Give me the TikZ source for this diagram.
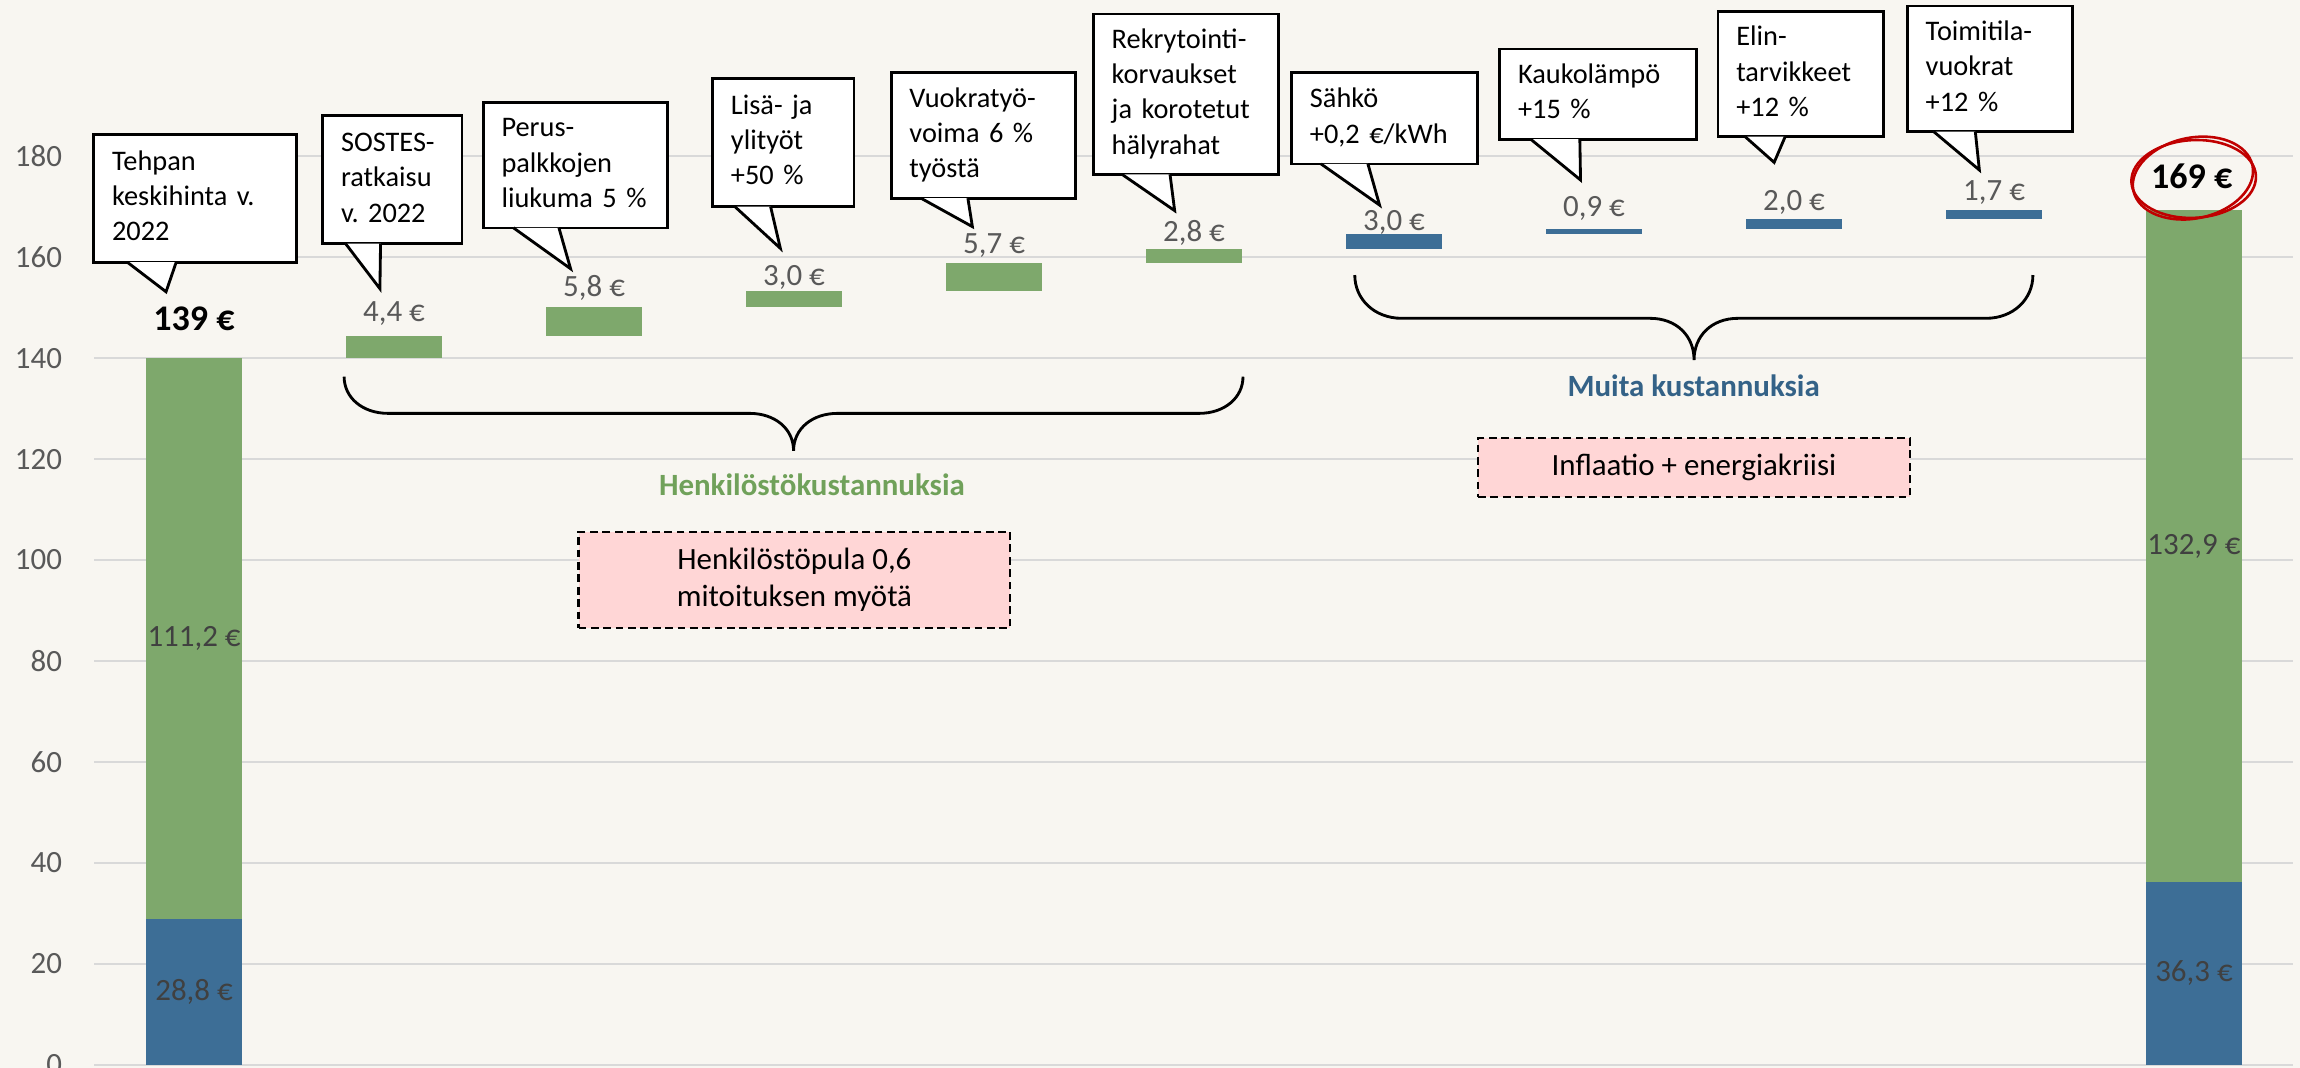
\documentclass[tikz,border=0pt]{standalone}
\usepackage{fontspec}
\setmainfont{Carlito}
\usepackage{xcolor}
\usepackage{tikz}
\usetikzlibrary{positioning}
\frenchspacing

\definecolor{chartbg}{RGB}{248,246,241}
\definecolor{gridgray}{RGB}{217,217,217}
\definecolor{axisgray}{RGB}{89,89,89}
\definecolor{inbargray}{RGB}{64,64,64}
\definecolor{bargreen}{RGB}{126,168,108}
\definecolor{barblue}{RGB}{61,110,150}
\definecolor{headgreen}{RGB}{112,161,90}
\definecolor{headblue}{RGB}{52,98,135}
\definecolor{notepink}{RGB}{255,214,214}
\definecolor{ringred}{RGB}{192,0,0}

\begin{document}
\begin{tikzpicture}[
    x=0.02cm, y=-0.02cm,
    gridline/.style={draw=gridgray, line width=0.8pt},
    ylab/.style={anchor=east, inner sep=0pt, text=axisgray, font=\fontsize{12}{14}\selectfont},
    vallab/.style={anchor=base, inner sep=0pt, text=axisgray, font=\fontsize{12}{14}\selectfont},
    inbar/.style={inner sep=0pt, text=inbargray, font=\fontsize{12}{14}\selectfont},
    totlab/.style={anchor=base, inner sep=0pt, font=\fontsize{14}{17}\selectfont\bfseries},
    bubble/.style={draw, fill=white, line width=1.1pt, align=left, inner xsep=0.25cm, inner ysep=2pt, font=\fontsize{11}{13.7}\selectfont, execute at begin node=\strut, execute at end node=\strut},
    bubbletail/.style={draw, fill=white, line width=1.1pt},
    notebox/.style={draw, dash pattern=on 3pt off 1.8pt, line width=0.9pt, fill=notepink, align=center, minimum width=5.886cm, font=\fontsize{12}{14.7}\selectfont},
    bracepath/.style={line width=1.1pt},
    grouplab/.style={anchor=base, inner sep=0pt, font=\fontsize{12}{14}\selectfont\bfseries},
    redring/.style={draw=ringred, line width=1pt}
]
    \fill[chartbg] (0,0) rectangle (1568,728);
    \useasboundingbox (0,0) rectangle (1568,728);

    \foreach \val in {0,20,...,180} {
        \draw[gridline] (64.1,{725.9-3.441*\val}) -- (1563.3,{725.9-3.441*\val});
        \node[ylab] (y\val) at (42.6,{725.9-3.441*\val}) {\val};
    }

    \fill[barblue] (99.6,626.8) rectangle (165.0,725.9);
    \fill[bargreen] (99.6,244.2) rectangle (165.0,626.8);
    \fill[bargreen] (235.9,229.0) rectangle (301.3,244.2);
    \fill[bargreen] (372.3,209.1) rectangle (437.7,229.0);
    \fill[bargreen] (508.6,198.7) rectangle (574.0,209.1);
    \fill[bargreen] (645.0,179.1) rectangle (710.4,198.7);
    \fill[bargreen] (781.3,169.5) rectangle (846.7,179.1);
    \fill[barblue] (917.6,159.2) rectangle (983.0,169.5);
    \fill[barblue] (1054.0,156.1) rectangle (1119.4,159.2);
    \fill[barblue] (1190.3,149.2) rectangle (1255.7,156.1);
    \fill[barblue] (1326.7,143.3) rectangle (1392.1,149.2);
    \fill[barblue] (1463.0,601.0) rectangle (1528.4,725.9);
    \fill[bargreen] (1463.0,143.3) rectangle (1528.4,601.0);

    \node[inbar] (blue-old) at (132.3,676.3) {28,8 €};
    \node[inbar] (green-old) at (132.3,435.5) {111,2 €};
    \node[inbar] (blue-new) at (1495.7,663.4) {36,3 €};
    \node[inbar] (green-new) at (1495.7,372.3) {132,9 €};
    \node[totlab] (total-old) at (132.3,225) {139 €};
    \node[totlab] (total-new) at (1494.2,128.4) {169 €};

    \node[vallab] (v-sostes) at (268.6,219.3) {4,4 €};
    \node[vallab] (v-perus) at (405.0,202.3) {5,8 €};
    \node[vallab] (v-lisa) at (541.3,194.3) {3,0 €};
    \node[vallab] (v-vuokra) at (677.7,172.7) {5,7 €};
    \node[vallab] (v-rekry) at (814.0,164.8) {2,8 €};
    \node[vallab] (v-sahko) at (950.3,156.8) {3,0 €};
    \node[vallab] (v-kauko) at (1086.7,147.7) {0,9 €};
    \node[vallab] (v-elin) at (1223.0,143.2) {2,0 €};
    \node[vallab] (v-toimi) at (1359.4,136.4) {1,7 €};

    \draw[bracepath] (234.6,256.8) .. controls (234.6,271) and (247,281.8) .. (264.6,281.8) -- (511,281.8) .. controls (528,281.8) and (541,292) .. (541,307.3) .. controls (541,292) and (554,281.8) .. (571,281.8) -- (817.4,281.8) .. controls (835,281.8) and (847.4,271) .. (847.4,256.8);
    \draw[bracepath] (923.6,187.5) .. controls (923.6,204) and (937,217) .. (955.6,217) -- (1124.9,217) .. controls (1143,217) and (1154.9,229) .. (1154.9,245.4) .. controls (1154.9,229) and (1166.8,217) .. (1184.9,217) -- (1353.9,217) .. controls (1372.5,217) and (1385.9,204) .. (1385.9,187.5);
    \node[grouplab, text=headgreen] (staff) at (553.5,337.5) {Henkilöstökustannuksia};
    \node[grouplab, text=headblue] (other) at (1154.6,270) {Muita kustannuksia};

    \node[notebox, minimum height=1.31cm] (shortage) at (541.6,395.2) {Henkilöstöpula 0,6\\mitoituksen myötä};
    \node[notebox, minimum height=0.796cm] (inflation) at (1154.8,318.7) {Inflaatio + energiakriisi};

    \node[bubble, text width=2.27cm, minimum height=1.744cm] (tehpan) at (133.15,135.2) {Tehpan\\keskihinta v.\\2022};
    \coordinate (tehpan-tip) at (113.2,198.9);
    \draw[bubbletail] ([xshift=0.476cm, yshift=0.6pt]tehpan.south west) -- (tehpan-tip) -- ([xshift=1.144cm, yshift=0.6pt]tehpan.south west);

    \node[bubble, text width=1.40cm, minimum height=1.744cm] (sostes) at (267.5,122.5) {SOSTES-\\ratkaisu\\v. 2022};
    \coordinate (sostes-tip) at (259,196.8);
    \draw[bubbletail] ([xshift=0.33cm, yshift=0.6pt]sostes.south west) -- (sostes-tip) -- ([xshift=0.808cm, yshift=0.6pt]sostes.south west);

    \node[bubble, text width=2.016cm, minimum height=1.712cm] (perus) at (392.3,112.6) {Perus-\\palkkojen\\liukuma 5 \%};
    \coordinate (perus-tip) at (389,183.2);
    \draw[bubbletail] ([xshift=0.432cm, yshift=0.6pt]perus.south west) -- (perus-tip) -- ([xshift=1.052cm, yshift=0.6pt]perus.south west);

    \node[bubble, text width=1.428cm, minimum height=1.75cm] (lisa) at (534,97.15) {Lisä- ja\\ylityöt\\+50 \%};
    \coordinate (lisa-tip) at (532,169.3);
    \draw[bubbletail] ([xshift=0.322cm, yshift=0.6pt]lisa.south west) -- (lisa-tip) -- ([xshift=0.81cm, yshift=0.6pt]lisa.south west);

    \node[bubble, text width=2.01cm, minimum height=1.714cm] (vuokra) at (670.25,92.35) {Vuokratyö-\\voima 6 \%\\työstä};
    \coordinate (vuokra-tip) at (662.9,154.5);
    \draw[bubbletail] ([xshift=0.426cm, yshift=0.6pt]vuokra.south west) -- (vuokra-tip) -- ([xshift=1.066cm, yshift=0.6pt]vuokra.south west);

    \node[bubble, text width=2.02cm, minimum height=2.188cm] (rekry) at (808.4,64.2) {Rekrytointi-\\korvaukset\\ja korotetut\\hälyrahat};
    \coordinate (rekry-tip) at (800.8,143.6);
    \draw[bubbletail] ([xshift=0.408cm, yshift=0.6pt]rekry.south west) -- (rekry-tip) -- ([xshift=1.064cm, yshift=0.6pt]rekry.south west);

    \node[bubble, text width=2.038cm, minimum height=1.246cm] (sahko) at (943.95,80.65) {Sähkö\\+0,2 €/kWh};
    \coordinate (sahko-tip) at (940.5,139.8);
    \draw[bubbletail] ([xshift=0.42cm, yshift=0.6pt]sahko.south west) -- (sahko-tip) -- ([xshift=1.06cm, yshift=0.6pt]sahko.south west);

    \node[bubble, text width=2.182cm, minimum height=1.232cm] (kauko) at (1089.45,64.2) {Kaukolämpö\\+15 \%};
    \coordinate (kauko-tip) at (1077.5,122.7);
    \draw[bubbletail] ([xshift=0.442cm, yshift=0.6pt]kauko.south west) -- (kauko-tip) -- ([xshift=1.112cm, yshift=0.6pt]kauko.south west);

    \node[bubble, text width=1.752cm, minimum height=1.704cm] (elin) at (1227.5,50.6) {Elin-\\tarvikkeet\\+12 \%};
    \coordinate (elin-tip) at (1209.5,110.7);
    \draw[bubbletail] ([xshift=0.388cm, yshift=0.6pt]elin.south west) -- (elin-tip) -- ([xshift=0.936cm, yshift=0.6pt]elin.south west);

    \node[bubble, text width=1.754cm, minimum height=1.714cm] (toimi) at (1356.65,46.95) {Toimitila-\\vuokrat\\+12 \%};
    \coordinate (toimi-tip) at (1349.4,115.9);
    \draw[bubbletail] ([xshift=0.378cm, yshift=0.6pt]toimi.south west) -- (toimi-tip) -- ([xshift=0.946cm, yshift=0.6pt]toimi.south west);

    \draw[redring, rotate around={12:(1495,121.4)}] (1495,121.4) ellipse [x radius=0.83cm, y radius=0.55cm];
    \draw[redring, rotate around={3:(1495.5,122)}] (1495.5,122) ellipse [x radius=0.85cm, y radius=0.53cm];
\end{tikzpicture}
\end{document}
